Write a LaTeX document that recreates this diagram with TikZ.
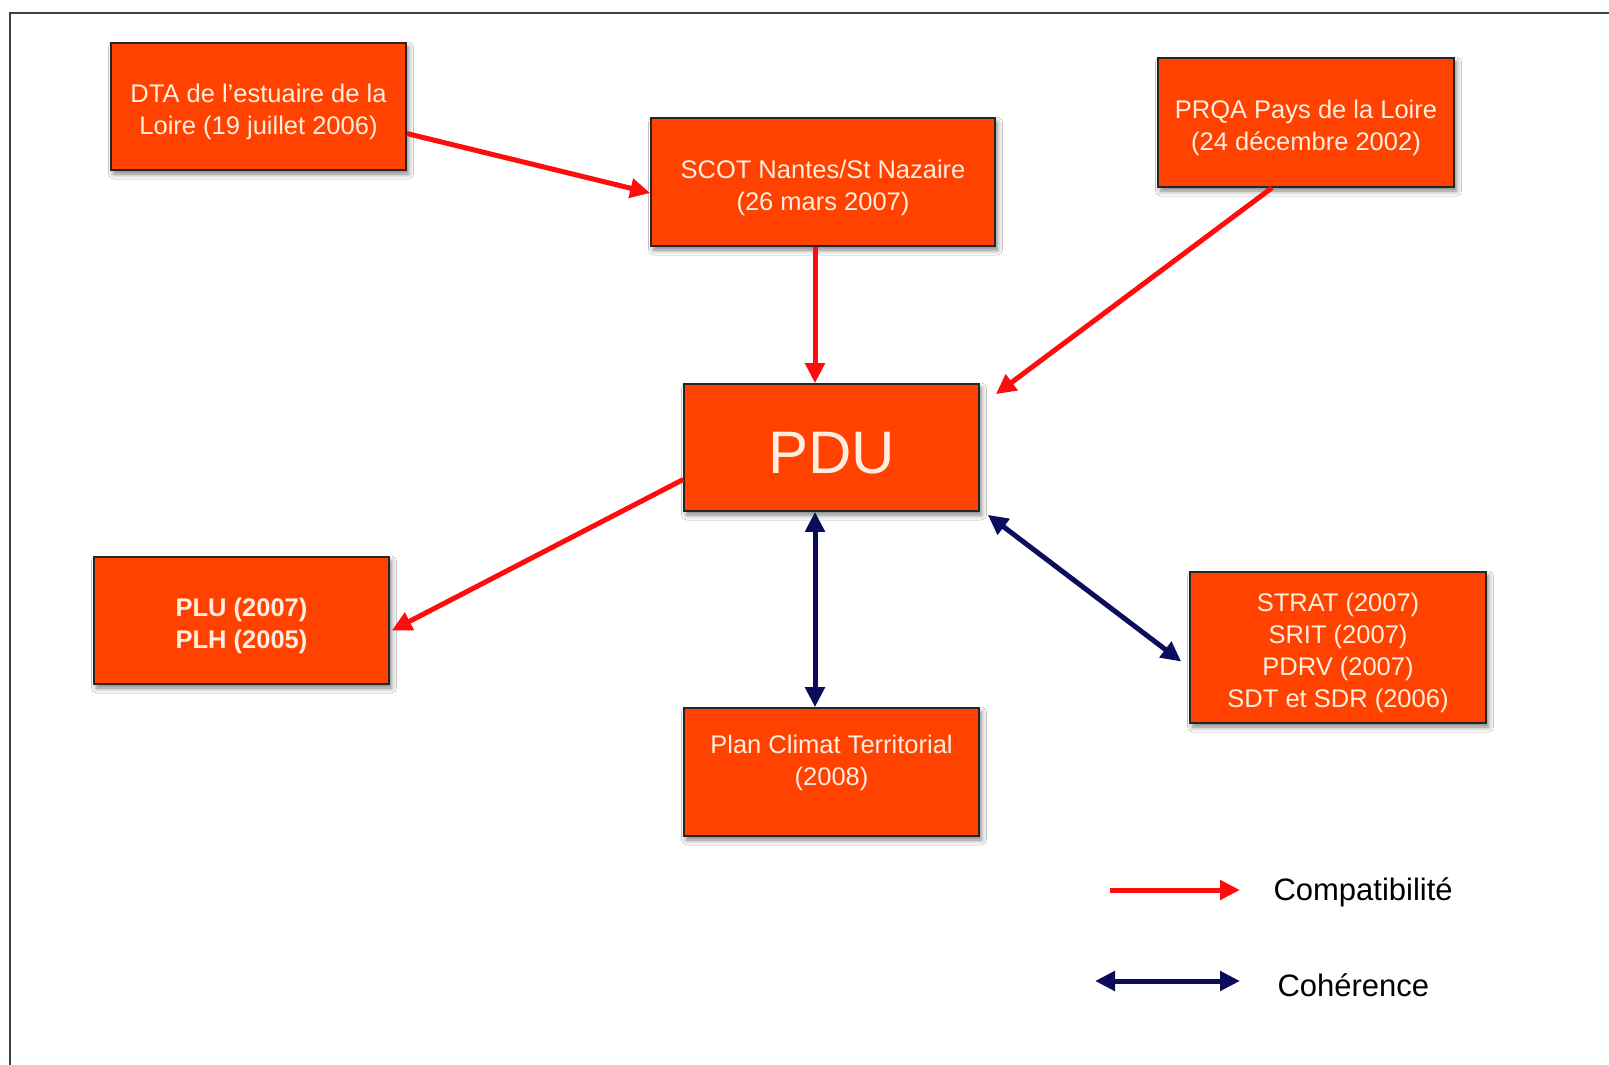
\documentclass[tikz,border=0pt]{standalone}
\usepackage{fontspec}
\setmainfont{Liberation Sans}
\usetikzlibrary{arrows.meta,shadows.blur}
\definecolor{boxfill}{HTML}{FF4200}
\definecolor{boxtext}{HTML}{FFEDE0}
\definecolor{redarr}{HTML}{FF0C0C}
\definecolor{navyarr}{HTML}{0C0C5C}
\definecolor{framec}{HTML}{404040}
\tikzset{
  planbox/.style={draw=black!85, line width=1.6pt, fill=boxfill,
    inner sep=0pt, minimum width=295pt, minimum height=127pt,
    blur shadow={shadow xshift=2.5pt, shadow yshift=-4pt, shadow blur radius=5pt, shadow opacity=50}},
  boxlabel/.style={text=boxtext, align=center, inner sep=0pt, yshift=-5.5pt,
    font=\fontsize{25.5}{32}\selectfont},
  compat/.style={draw=redarr, line width=5pt, -{Triangle[length=20pt,width=19pt]}},
  coher/.style={draw=navyarr, line width=5pt, {Triangle[length=20pt,width=19pt]}-{Triangle[length=20pt,width=19pt]}},
  legendtext/.style={anchor=west, text=black, font=\fontsize{31}{36}\selectfont}
}
\begin{document}
\begin{tikzpicture}[x=1pt,y=-1pt]
\useasboundingbox (0,0) rectangle (1609,1065);
\fill[white] (0,0) rectangle (1609,1065);
\draw[framec, line width=2.5pt] (10,1066) -- (10,13) -- (1610,13);

\node[planbox, label={[boxlabel]center:{DTA de l'estuaire de la\\Loire (19 juillet 2006)}}] (dta) at (258.5,106.5) {};
\node[planbox, minimum width=344pt, minimum height=128pt, label={[boxlabel]center:{SCOT Nantes/St Nazaire\\(26 mars 2007)}}] (scot) at (823,182) {};
\node[planbox, minimum width=296pt, minimum height=129pt, label={[boxlabel]center:{PRQA Pays de la Loire\\(24 décembre 2002)}}] (prqa) at (1306,122.5) {};
\node[planbox, label={[boxlabel, font=\fontsize{60}{66}\selectfont]center:PDU}] (pdu) at (831.5,447.5) {};
\node[planbox, label={[boxlabel, font=\fontsize{25.5}{32}\selectfont\bfseries]center:{PLU (2007)\\PLH (2005)}}] (plu) at (241.5,620.5) {};
\node[planbox, minimum height=128pt, label={[boxlabel, yshift=14.3pt]center:{Plan Climat Territorial\\(2008)}}] (plan) at (831.5,772) {};
\node[planbox, minimum width=296pt, minimum height=151pt, label={[boxlabel]center:{STRAT (2007)\\SRIT (2007)\\PDRV (2007)\\SDT et SDR (2006)}}] (strat) at (1338,647.5) {};

\draw[compat] ([yshift=-27pt]dta.east) -- ([yshift=-11pt]scot.west);
\draw[compat] ([xshift=-8pt]scot.south) -- ([xshift=-16.5pt]pdu.north);
\draw[compat] ([xshift=-34pt]prqa.south) -- ([xshift=16pt,yshift=-11pt]pdu.north east);
\draw[compat] ([yshift=-32pt]pdu.west) -- ([xshift=2pt,yshift=-10pt]plu.east);
\draw[coher] ([xshift=-16.5pt]pdu.south) -- ([xshift=-16.5pt]plan.north);
\draw[coher] ([xshift=8pt,yshift=-3pt]pdu.south east) -- ([xshift=-8pt,yshift=-14pt]strat.west);

\coordinate (lc1) at (1110,890);
\coordinate (lc2) at (1240,890);
\coordinate (lh1) at (1095,981);
\coordinate (lh2) at (1240,981);
\draw[compat] (lc1) -- (lc2);
\draw[coher] (lh1) -- (lh2);
\node[legendtext] (compatlabel) at (1270,892) {Compatibilité};
\node[legendtext] (coherlabel) at (1274,985) {Cohérence};
\end{tikzpicture}
\end{document}
